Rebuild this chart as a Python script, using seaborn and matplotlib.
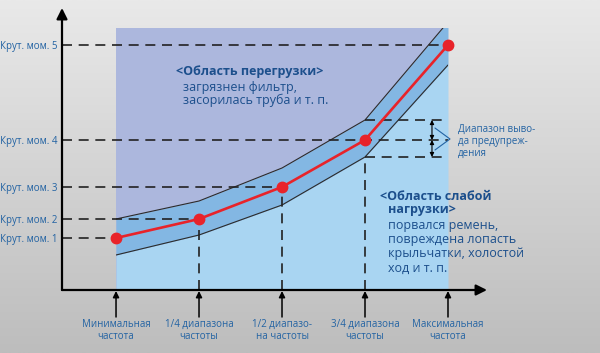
import numpy as np
import matplotlib
matplotlib.use("Agg")
import matplotlib.pyplot as plt
import matplotlib.patches as mpatches
import seaborn as sns

sns.set_style("white")
plt.rcParams['font.family'] = ['Open Sans', 'DejaVu Sans']

# frequency steps (0 = min, 4 = max) and their labels
freq_pos = [0, 1, 2, 3, 4]
freq_labels = ["Минимальная\nчастота", "1/4 диапазона\nчастоты", "1/2 диапазо-\nна частоты",
               "3/4 диапазона\nчастоты", "Максимальная\nчастота"]

# torque levels (arbitrary units) and labels
torque_levels = [52, 71, 103, 150, 245]
torque_labels = ["Крут. мом. 1", "Крут. мом. 2", "Крут. мом. 3", "Крут. мом. 4", "Крут. мом. 5"]

# torque at each frequency and the warning band around it
torque_curve = [52, 71, 103, 150, 245]
band_upper = [71, 89, 122, 170, 268]
band_lower = [35, 55, 85, 133, 225]
region_top = 262

TEXT_BLUE = "#1c4f8c"
TICK_BLUE = "#2363a3"

fig = plt.figure(figsize=(6, 3.53), dpi=100)

# gray gradient background
bg = fig.add_axes([0, 0, 1, 1], zorder=-10)
grad = np.linspace(0, 1, 256).reshape(-1, 1)
cmap = matplotlib.colors.LinearSegmentedColormap.from_list("bg", ["#e9e9e9", "#bdbdbd"])
bg.imshow(grad, aspect="auto", cmap=cmap, extent=[0, 1, 0, 1], origin="upper")
bg.axis("off")

ax = fig.add_axes([62 / 600, 63 / 353, 425 / 600, 282 / 353])
ax.patch.set_alpha(0)
ax.set_xlim(-0.651, 4.47)
ax.set_ylim(0, 282)
for s in ax.spines.values():
    s.set_visible(False)

# regions
ax.fill_between(freq_pos, 0, region_top, color="#acb7dd", lw=0, zorder=1)
ax.fill_between(freq_pos, 0, band_lower, color="#a9d5f2", lw=0, zorder=2)
clip = mpatches.Rectangle((0, 0), 4, region_top, transform=ax.transData)
band = ax.fill_between(freq_pos, band_lower, band_upper, color="#83b7e3", lw=0, zorder=3)
band.set_clip_path(clip)
for edge in (band_upper, band_lower):
    ln, = ax.plot(freq_pos, edge, color="#2b2b2b", lw=0.8, zorder=4)
    ln.set_clip_path(clip)

# dashed guide lines
dash_end = [0, 1, 2, 4, 4]
for lvl, xe in zip(torque_levels, dash_end):
    ax.plot([-0.651, xe], [lvl, lvl], color="#222222", lw=1.2, dashes=[6, 4], zorder=5)
for b in (band_upper[3], band_lower[3]):
    ax.plot([3, 4], [b, b], color="#222222", lw=1.2, dashes=[6, 4], zorder=5)
for xp, top in zip([1, 2, 3], [torque_curve[1], torque_curve[2], band_lower[3]]):
    ax.plot([xp, xp], [0, top], color="#222222", lw=1.2, dashes=[6, 4], zorder=5)

# torque curve
ax.plot(freq_pos, torque_curve, color="#e8232a", lw=1.9, marker="o", ms=7.5, zorder=6)

# axes with arrows
arrow = dict(arrowstyle="-|>", lw=1.6, color="black", mutation_scale=16, shrinkA=0, shrinkB=0)
ax.annotate("", xy=(0, 1), xytext=(0, 0), xycoords="axes fraction", arrowprops=arrow, zorder=7)
ax.annotate("", xy=(1, 0), xytext=(0, 0), xycoords="axes fraction", arrowprops=arrow, zorder=7)

# ticks
ax.set_yticks(torque_levels, torque_labels)
ax.set_xticks(freq_pos, freq_labels)
ax.tick_params(axis="y", length=0, pad=3.5, labelsize=7, labelcolor=TICK_BLUE)
ax.tick_params(axis="x", length=0, pad=21, labelsize=7, labelcolor=TICK_BLUE)
for lbl in ax.get_xticklabels():
    lbl.set_linespacing(1.1)
for xp in freq_pos:
    ax.annotate("", xy=(xp, -1), xytext=(xp, -27),
                arrowprops=dict(arrowstyle="-|>", lw=1.1, color="black", mutation_scale=9,
                                shrinkA=0, shrinkB=0), annotation_clip=False)

# warning range markers
small = dict(arrowstyle="<|-|>", lw=0.8, color="black", mutation_scale=6, shrinkA=0, shrinkB=0)
ax.annotate("", xy=(3.807, band_upper[3]), xytext=(3.807, torque_curve[3]), arrowprops=small, zorder=7)
ax.annotate("", xy=(3.807, torque_curve[3]), xytext=(3.807, band_lower[3]), arrowprops=small, zorder=7)
ax.plot([3.843, 4.024, 3.843], [162, 151, 140], color=TICK_BLUE, lw=0.8, zorder=7, clip_on=False)
ax.text(4.12, 166, "Диапазон выво-\nда предупреж-\nдения", color=TICK_BLUE, fontsize=7,
        va="top", ha="left", linespacing=1.1)

# region captions
ax.text(0.723, 218, "<Область перегрузки>", color=TEXT_BLUE, fontsize=9, fontweight="bold", va="center")
ax.text(0.81, 203, "загрязнен фильтр,", color=TEXT_BLUE, fontsize=9, va="center")
ax.text(0.81, 190, "засорилась труба и т. п.", color=TEXT_BLUE, fontsize=9, va="center")

ax.text(3.18, 93, "<Область слабой", color=TEXT_BLUE, fontsize=9, fontweight="bold", va="center")
ax.text(3.28, 80, "нагрузки>", color=TEXT_BLUE, fontsize=9, fontweight="bold", va="center")
for i, line in enumerate(["порвался ремень,", "повреждена лопасть", "крыльчатки, холостой", "ход и т. п."]):
    ax.text(3.28, 64 - 14 * i, line, color=TEXT_BLUE, fontsize=9, va="center")

fig.savefig("out.png", dpi=100)
